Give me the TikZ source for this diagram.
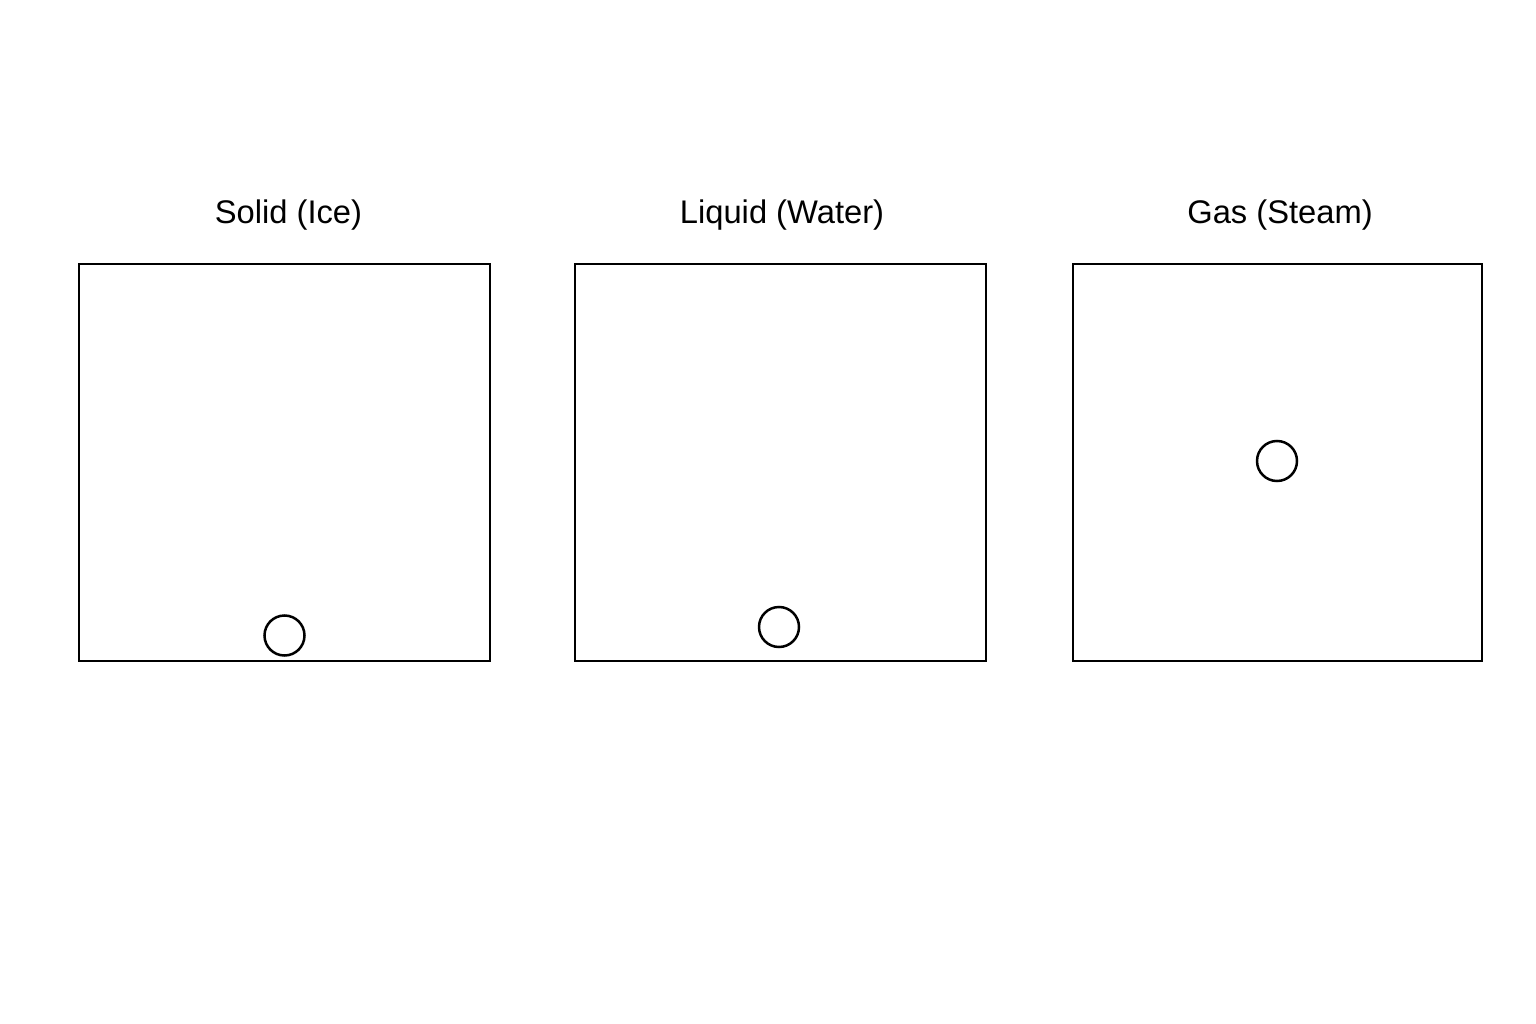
\documentclass[tikz,border=0pt]{standalone}
\usepackage{fontspec}
\setmainfont{Liberation Sans}
\begin{document}
\begin{tikzpicture}[x=1pt,y=-1pt,
  phasebox/.style={draw=black,line width=2.5pt},
  particle/.style={circle,draw=black,line width=2.5pt,minimum size=40pt,inner sep=0pt},
  title/.style={font=\fontsize{32.7}{38}\selectfont,anchor=base}]
\useasboundingbox[fill=white] (0,0) rectangle (1536,1024);
\draw[phasebox] (79,264) rectangle (490,661);
\draw[phasebox] (575,264) rectangle (986,661);
\draw[phasebox] (1073,264) rectangle (1482,661);
\node[title] (t1) at (288.5,224) {Solid (Ice)};
\node[title] (t2) at (782,224) {Liquid (Water)};
\node[title] (t3) at (1280,224) {Gas (Steam)};
\node[particle] (p1) at (284.5,635.5) {};
\node[particle] (p2) at (779,627) {};
\node[particle] (p3) at (1277,461) {};
\end{tikzpicture}
\end{document}
